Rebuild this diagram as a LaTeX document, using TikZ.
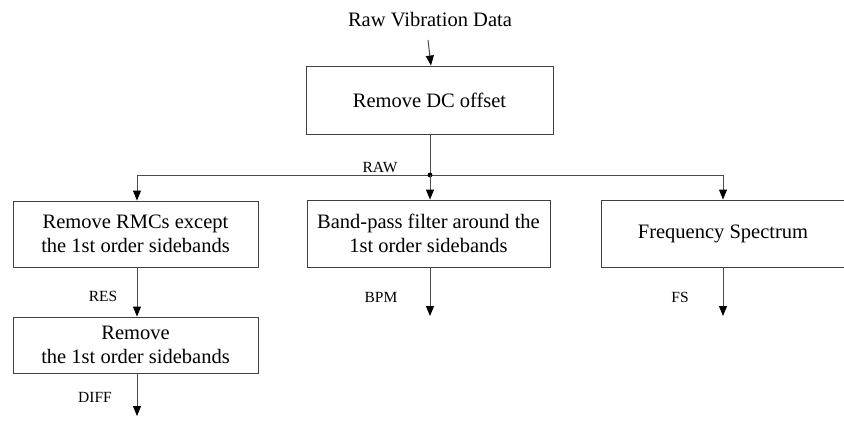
\documentclass[tikz,border=0pt]{standalone}
\usepackage{fontspec}
\setmainfont{Liberation Serif}
\usetikzlibrary{arrows.meta}
\begin{document}
\begin{tikzpicture}[x=1pt,y=-1pt,
  procbox/.style={draw=black!75, line width=0.9pt, inner sep=0pt, align=center,
    font=\fontsize{20.5}{23.5}\selectfont},
  flow/.style={draw=black!70, line width=1pt, -{Triangle[length=10pt,width=8pt,color=black]}},
  wire/.style={draw=black!70, line width=1pt},
  sig/.style={font=\fontsize{15.5}{18}\selectfont, inner sep=0pt}]
\useasboundingbox (0,0) rectangle (844,426);

% input
\node[font=\fontsize{20.5}{23.5}\selectfont, inner sep=0pt] (input) at (430,20) {Raw Vibration Data};
\coordinate (instart) at (428,40);

% boxes
\node[procbox, minimum width=247pt, minimum height=68pt] (dc) at (429.5,100) {Remove DC offset};
\node[procbox, minimum width=245pt, minimum height=66pt] (rmc) at (135.5,234) {Remove RMCs except\\the 1st order sidebands};
\node[procbox, minimum width=243pt, minimum height=67pt] (bp) at (428.5,233.5) {Band-pass filter around the\\1st order sidebands};
\node[procbox, minimum width=244pt, minimum height=67pt] (fs) at (723,233.5) {Frequency Spectrum};
\node[procbox, minimum width=245pt, minimum height=56pt] (rem) at (135.5,345) {Remove\\the 1st order sidebands};

% junction and branches
\coordinate (junc) at (430,175);
\coordinate (jl) at (137,175);
\coordinate (jr) at (723,175);
\coordinate (bpmend) at (430,316);
\coordinate (fsend) at (723,316);
\coordinate (diffend) at (137,416);

\draw[flow] (instart) -- (dc.north -| 431,0);
\draw[wire] (dc.south -| junc) -- (junc);
\draw[wire] (jl) -- (jr);
\fill[black] (junc) circle (2.4pt);
\draw[flow] (jl) -- (rmc.north -| jl);
\draw[flow] (junc) -- (bp.north -| junc);
\draw[flow] (jr) -- (fs.north -| jr);
\draw[flow] (rmc.south -| jl) -- (rem.north -| jl);
\draw[flow] (bp.south -| junc) -- (bpmend);
\draw[flow] (fs.south -| jr) -- (fsend);
\draw[flow] (rem.south -| jl) -- (diffend);

% signal labels
\node[sig] (raw) at (380,167) {RAW};
\node[sig] (res) at (103,296) {RES};
\node[sig] (bpm) at (381,297) {BPM};
\node[sig] (fsl) at (680,297) {FS};
\node[sig] (diff) at (95,397) {DIFF};
\end{tikzpicture}
\end{document}
